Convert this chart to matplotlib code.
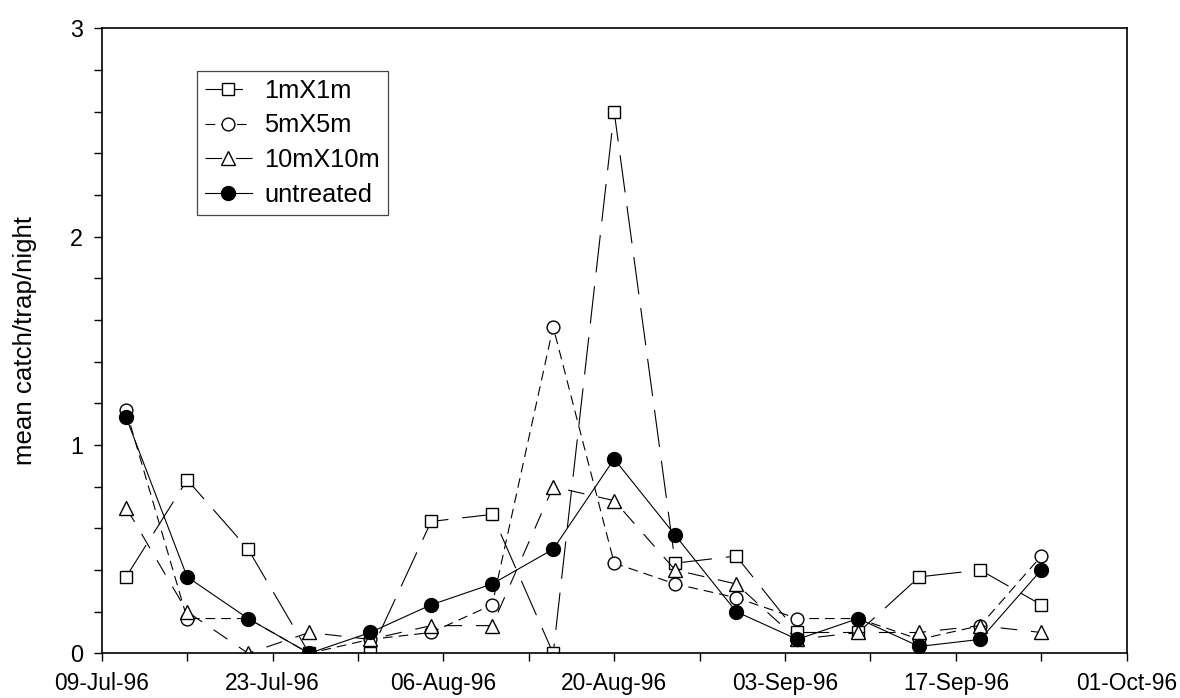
import numpy as np
import matplotlib
matplotlib.use('Agg')
import matplotlib.pyplot as plt
import matplotlib.dates as mdates

plt.rcParams['font.family'] = ['Liberation Sans', 'DejaVu Sans']
plt.rcParams['lines.scale_dashes'] = False

# sampling dates (every trap night)
dates = ['1996-07-11', '1996-07-16', '1996-07-21', '1996-07-26', '1996-07-31',
         '1996-08-05', '1996-08-10', '1996-08-15', '1996-08-20', '1996-08-25',
         '1996-08-30', '1996-09-04', '1996-09-09', '1996-09-14', '1996-09-19',
         '1996-09-24']

# mean catch per trap per night
plot_1m = [0.367, 0.833, 0.5, 0.0, 0.0, 0.633, 0.667, 0.0, 2.6, 0.433,
           0.467, 0.1, 0.1, 0.367, 0.4, 0.233]
plot_5m = [1.167, 0.167, 0.167, 0.0, 0.067, 0.1, 0.233, 1.567, 0.433, 0.333,
           0.267, 0.167, 0.167, 0.067, 0.133, 0.467]
plot_10m = [0.7, 0.2, 0.0, 0.1, 0.067, 0.133, 0.133, 0.8, 0.733, 0.4,
            0.333, 0.067, 0.1, 0.1, 0.133, 0.1]
untreated = [1.133, 0.367, 0.167, 0.0, 0.1, 0.233, 0.333, 0.5, 0.933, 0.567,
             0.2, 0.067, 0.167, 0.033, 0.067, 0.4]

x = np.array(dates, dtype='datetime64[D]')

fig = plt.figure(figsize=(11.8, 6.98), dpi=100)
ax = fig.add_axes([0.0862, 0.064, 0.8686, 0.8953])

lw = 0.8
mew = 1.0
ax.plot(x, plot_1m, color='black', lw=lw, ls=(0, (27, 10)), marker='s', ms=9.0,
        mfc='white', mec='black', mew=mew, label='1mX1m')
ax.plot(x, plot_5m, color='black', lw=lw, ls=(0, (7, 4.3)), marker='o', ms=9.2,
        mfc='white', mec='black', mew=mew, label='5mX5m')
ax.plot(x, plot_10m, color='black', lw=lw, ls=(0, (12, 10)), marker='^', ms=9.8,
        mfc='white', mec='black', mew=mew, label='10mX10m')
ax.plot(x, untreated, color='black', lw=lw, ls='-', marker='o', ms=10,
        mfc='black', mec='black', mew=mew, label='untreated')

# axes range and ticks
start = np.datetime64('1996-07-09')
end = np.datetime64('1996-10-01')
ax.set_xlim(start, end)
ax.set_ylim(0, 3)
ax.set_xticks(np.arange(start, end + 1, 14))
ax.set_xticks(np.arange(start, end + 1, 7), minor=True)
ax.xaxis.set_major_formatter(mdates.DateFormatter('%d-%b-%y'))
ax.set_yticks([0, 1, 2, 3])
ax.set_yticks(np.arange(0, 3.01, 0.2), minor=True)

ax.tick_params(which='both', direction='out', length=5.5, width=1.0, colors='black')
ax.tick_params(axis='x', which='major', labelsize=16.4, pad=8)
ax.tick_params(axis='y', which='major', labelsize=16.8, pad=8)
for s in ax.spines.values():
    s.set_linewidth(1.2)

ax.set_ylabel('mean catch/trap/night', fontsize=18.6)
ax.yaxis.set_label_coords(-0.063, 0.5)

leg = ax.legend(loc='upper left', bbox_to_anchor=(0.093, 0.932), borderaxespad=0,
                fontsize=18.3, frameon=True, fancybox=False, framealpha=1,
                edgecolor='#444444', handlelength=1.85, handletextpad=0.5,
                labelspacing=0.43, borderpad=0.3)
leg.get_frame().set_linewidth(0.9)

fig.savefig('out.png', dpi=100)
